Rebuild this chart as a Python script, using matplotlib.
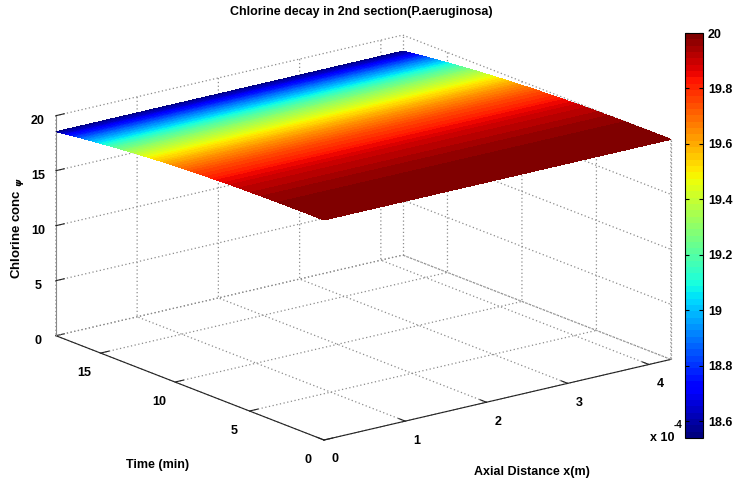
import numpy as np
import matplotlib
matplotlib.use('Agg')
import matplotlib.pyplot as plt
from matplotlib import colors, cm

# ---------------- data ----------------
time_min = [0, 1, 2, 3, 4, 5, 6, 7, 8, 9, 10, 11, 12, 13, 14, 15, 16, 17, 18]
chlorine_conc = [20.00, 20.00, 19.99, 19.98, 19.96, 19.93, 19.90, 19.85, 19.79,
                 19.73, 19.65, 19.56, 19.45, 19.34, 19.21, 19.06, 18.91, 18.74, 18.54]
axial_distance_m = [0.0, 4.27e-4]

x_ticks = [0.0, 1e-4, 2e-4, 3e-4, 4e-4]
x_ticklabels = ['0', '1', '2', '3', '4']
t_ticks = [0, 5, 10, 15]
t_ticklabels = ['0', '5', '10', '15']
z_ticks = [0, 5, 10, 15, 20]
z_ticklabels = ['0', '5', '10', '15', '20']
cbar_ticks = [18.6, 18.8, 19.0, 19.2, 19.4, 19.6, 19.8, 20.0]
cbar_ticklabels = ['18.6', '18.8', '19', '19.2', '19.4', '19.6', '19.8', '20']
z_limits = (0, 20)

title = 'Chlorine decay in 2nd section(P.aeruginosa)'
xlabel = 'Axial Distance x(m)'
ylabel = 'Time (min)'
zlabel = 'Chlorine conc $_{\\psi}$'

# ---------------- style ----------------
GRID_C = '#8c8c8c'
DOT = (0, (1, 2))
plt.rcParams['font.family'] = ['Liberation Sans', 'DejaVu Sans']
plt.rcParams['font.weight'] = 'bold'
plt.rcParams['font.size'] = 9
plt.rcParams['grid.color'] = GRID_C
plt.rcParams['grid.linestyle'] = DOT
plt.rcParams['grid.linewidth'] = 0.9

W, H = 737, 484
fig = plt.figure(figsize=(W / 100, H / 100), dpi=100)
ax = fig.add_axes([0.05, 0.05, 0.8, 0.9], projection='3d')
ax.set_proj_type('ortho')
ax.view_init(elev=17.5, azim=-127.7)
aspect = [1.0, 1.0, 0.53]
ax.set_box_aspect(aspect)

t = np.asarray(time_min, float)
c = np.asarray(chlorine_conc, float)
xa = np.asarray(axial_distance_m, float)
# finer display grid so the colour shading is smooth (like MATLAB 'shading interp')
t_disp = np.linspace(t.min(), t.max(), 181)
c_disp = np.interp(t_disp, t, c)
X, T = np.meshgrid(xa, t_disp)
Z = np.repeat(c_disp[:, None], len(xa), axis=1)

cmap = plt.get_cmap('jet', 64)
norm = colors.Normalize(vmin=min(chlorine_conc), vmax=max(chlorine_conc))
ax.plot_surface(X, T, Z, cmap=cmap, norm=norm, rstride=1, cstride=1,
                linewidth=0, antialiased=False, shade=False)

xmax, tmax = max(axial_distance_m), max(time_min)
zlo, zhi = z_limits
# dotted outline of the back box edges (where no grid line lies)
edge_kw = dict(color=GRID_C, linestyle=DOT, linewidth=0.9)
ax.plot([xmax, xmax], [tmax, tmax], [zlo, zhi], **edge_kw)
ax.plot([xmax, xmax], [0, 0], [zlo, zhi], **edge_kw)
ax.plot([0, xmax], [tmax, tmax], [zlo, zlo], **edge_kw)
ax.plot([xmax, xmax], [0, tmax], [zlo, zlo], **edge_kw)

ax.set_xlim(0, xmax)
ax.set_ylim(0, tmax)
ax.set_zlim(*z_limits)
ax.set_xticks(x_ticks)
ax.set_xticklabels(x_ticklabels, fontweight='bold', fontsize=9)
ax.set_yticks(t_ticks)
ax.set_yticklabels(t_ticklabels, fontweight='bold', fontsize=9)
ax.set_zticks(z_ticks)
ax.set_zticklabels(z_ticklabels, fontweight='bold', fontsize=9)

for axis in (ax.xaxis, ax.yaxis, ax.zaxis):
    axis.set_pane_color((1, 1, 1, 1))
    axis.pane.set_edgecolor((1, 1, 1, 0))
    axis.line.set_color('#222222')
    axis.line.set_linewidth(0.8)
    axis._axinfo['tick']['inward_factor'] = 0.0
    axis._axinfo['tick']['outward_factor'] = 0.3
    axis._axinfo['tick']['linewidth'] = {True: 0.8, False: 0.5}
    axis._axinfo['tick']['color'] = '#222222'
ax.zaxis.line.set_color('#888888')
ax.tick_params(axis='both', color='#222222', labelcolor='black')
ax.zaxis.set_tick_params(pad=-1)
ax.xaxis.set_tick_params(pad=2)
ax.yaxis.set_tick_params(pad=3)

# ---------------- fit the 3D box onto the reference layout ----------------
def project(x, y, z):
    v = ax.M @ np.array([x, y, z, 1.0])
    px, py = ax.transData.transform((v[0] / v[3], v[1] / v[3]))
    return px, H - py

tgt_F, tgt_L, tgt_R, tgt_Lt = (324, 440), (55, 335), (670, 358), (55, 115)
for it in range(3):
    fig.canvas.draw()
    F = project(0, 0, 0); L = project(0, tmax, 0); R = project(xmax, 0, 0)
    Lt = project(0, tmax, zhi)
    span = R[0] - L[0]
    zh = L[1] - Lt[1]
    ratio_t = (tgt_L[1] - tgt_Lt[1]) / (tgt_R[0] - tgt_L[0])
    aspect[2] *= ratio_t / (zh / span)
    ax.set_box_aspect(aspect)
    fig.canvas.draw()
    F = project(0, 0, 0); L = project(0, tmax, 0); R = project(xmax, 0, 0)
    span = R[0] - L[0]
    s = (tgt_R[0] - tgt_L[0]) / span
    bb = ax.get_position()
    x0, y0, w, h = bb.x0 * W, bb.y0 * H, bb.width * W, bb.height * H
    u = (F[0] - x0) / w
    v = ((H - F[1]) - y0) / h
    w2, h2 = w * s, h * s
    nx0 = tgt_F[0] - u * w2
    ny0 = (H - tgt_F[1]) - v * h2
    ax.set_position([nx0 / W, ny0 / H, w2 / W, h2 / H])

# ---------------- texts ----------------
fig.text(361.5 / W, 1 - 12 / H, title, ha='center', va='center', fontsize=9, fontweight='bold')
fig.text(158 / W, 1 - 465 / H, ylabel, ha='center', va='center', fontsize=9, fontweight='bold')
fig.text(532 / W, 1 - 472 / H, xlabel, ha='center', va='center', fontsize=9, fontweight='bold')
fig.text(17 / W, 1 - 228 / H, zlabel, ha='center', va='center', rotation=90,
         fontsize=9.5, fontweight='bold')
fig.text(662 / W, 1 - 438 / H, 'x 10', ha='center', va='center', fontsize=9, fontweight='bold')
fig.text(678 / W, 1 - 425 / H, '-4', ha='center', va='center', fontsize=7, fontweight='bold')

# ---------------- colorbar ----------------
cax = fig.add_axes([685 / W, 1 - 438 / H, 18 / W, 405 / H])
sm = cm.ScalarMappable(norm=norm, cmap=cmap)
cb = fig.colorbar(sm, cax=cax)
cb.set_ticks(cbar_ticks)
cb.set_ticklabels(cbar_ticklabels)
cax.tick_params(direction='in', length=3, left=True, right=True, labelsize=9, width=0.8)
for lbl in cax.get_yticklabels():
    lbl.set_fontweight('bold')
cb.outline.set_linewidth(0.8)

fig.savefig('out.png', dpi=100)
